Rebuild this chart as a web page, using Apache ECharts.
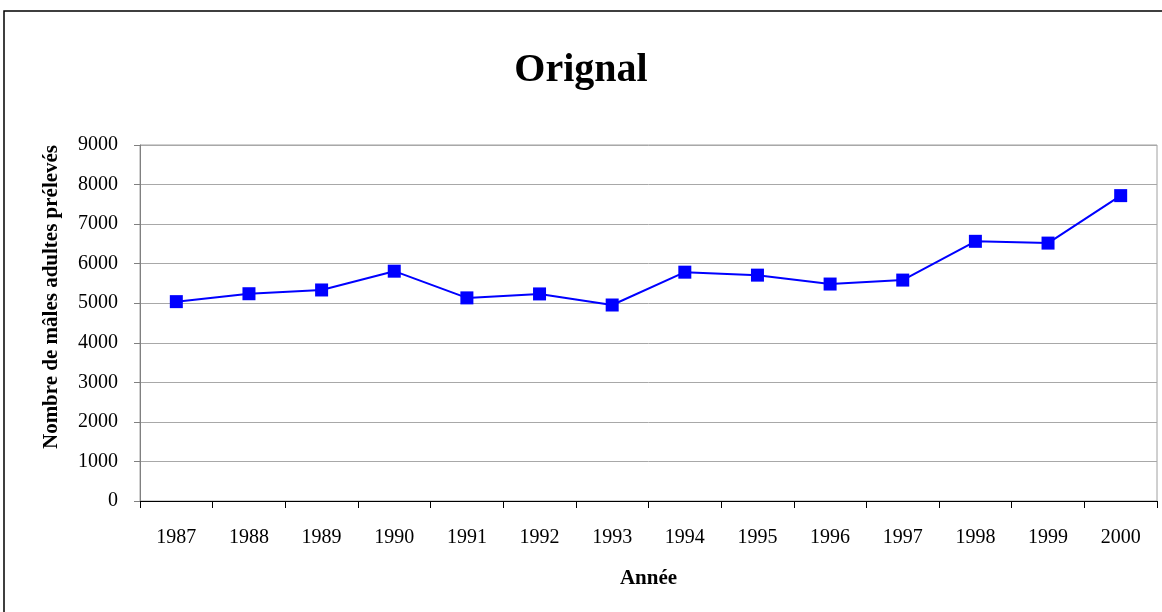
<!DOCTYPE html>
<html>
<head>
<meta charset="utf-8">
<title>Orignal</title>
<script src="https://cdn.jsdelivr.net/npm/echarts@6/dist/echarts.min.js"></script>
<style>
  html, body { margin: 0; padding: 0; background: #fff; }
  #chart { width: 1162px; height: 612px; }
</style>
</head>
<body>
<div id="chart"></div>
<script>
var years = ['1987', '1988', '1989', '1990', '1991', '1992', '1993',
             '1994', '1995', '1996', '1997', '1998', '1999', '2000'];
var males = [5040, 5240, 5335, 5810, 5135, 5235, 4955,
             5785, 5710, 5485, 5585, 6565, 6520, 7720];
var yTicks = { min: 0, max: 9000, interval: 1000 };

var serif = '"Liberation Serif", "DejaVu Serif", serif';

var chart = echarts.init(document.getElementById('chart'));

chart.setOption({
    animation: false,
    backgroundColor: '#fff',
    textStyle: { fontFamily: serif },
    title: {
        text: 'Orignal',
        left: 'center',
        top: 46,
        textStyle: { fontFamily: serif, fontSize: 40, fontWeight: 'bold', color: '#000' }
    },
    graphic: [
        {
            type: 'rect',
            silent: true,
            shape: { x: 4, y: 11, width: 1200, height: 700 },
            style: { fill: null, stroke: '#000', lineWidth: 1.5 }
        },
        {
            type: 'text',
            silent: true,
            x: 52,
            y: 297,
            rotation: Math.PI / 2,
            style: {
                text: 'Nombre de mâles adultes prélevés',
                font: 'bold 21px ' + serif,
                fill: '#000',
                align: 'center',
                verticalAlign: 'middle'
            }
        }
    ],
    grid: {
        left: 140,
        right: 5,
        top: 145,
        bottom: 111,
        show: true,
        borderColor: '#a0a0a0',
        borderWidth: 1
    },
    xAxis: {
        type: 'category',
        data: years,
        boundaryGap: true,
        name: 'Année',
        nameLocation: 'middle',
        nameGap: 67,
        nameTextStyle: { fontFamily: serif, fontSize: 21, fontWeight: 'bold', color: '#000' },
        axisLine: { lineStyle: { color: '#000', width: 1 } },
        axisTick: { show: true, length: 7, alignWithLabel: false, lineStyle: { color: '#000' } },
        axisLabel: { fontFamily: serif, fontSize: 20, color: '#000', margin: 27 },
        splitLine: { show: false }
    },
    yAxis: {
        type: 'value',
        min: yTicks.min,
        max: yTicks.max,
        interval: yTicks.interval,
        axisLine: { show: true, lineStyle: { color: '#808080', width: 1 } },
        axisTick: { show: true, length: 6, lineStyle: { color: '#808080' } },
        axisLabel: {
            fontFamily: serif,
            fontSize: 20,
            color: '#000',
            margin: 22,
            formatter: function (v) { return String(v); }
        },
        splitLine: { show: true, lineStyle: { color: '#a8a8a8', width: 1 } }
    },
    series: [{
        type: 'line',
        data: males,
        symbol: 'rect',
        symbolSize: 13,
        itemStyle: { color: '#0000ff' },
        lineStyle: { color: '#0000ff', width: 2 }
    }]
});
</script>
</body>
</html>
